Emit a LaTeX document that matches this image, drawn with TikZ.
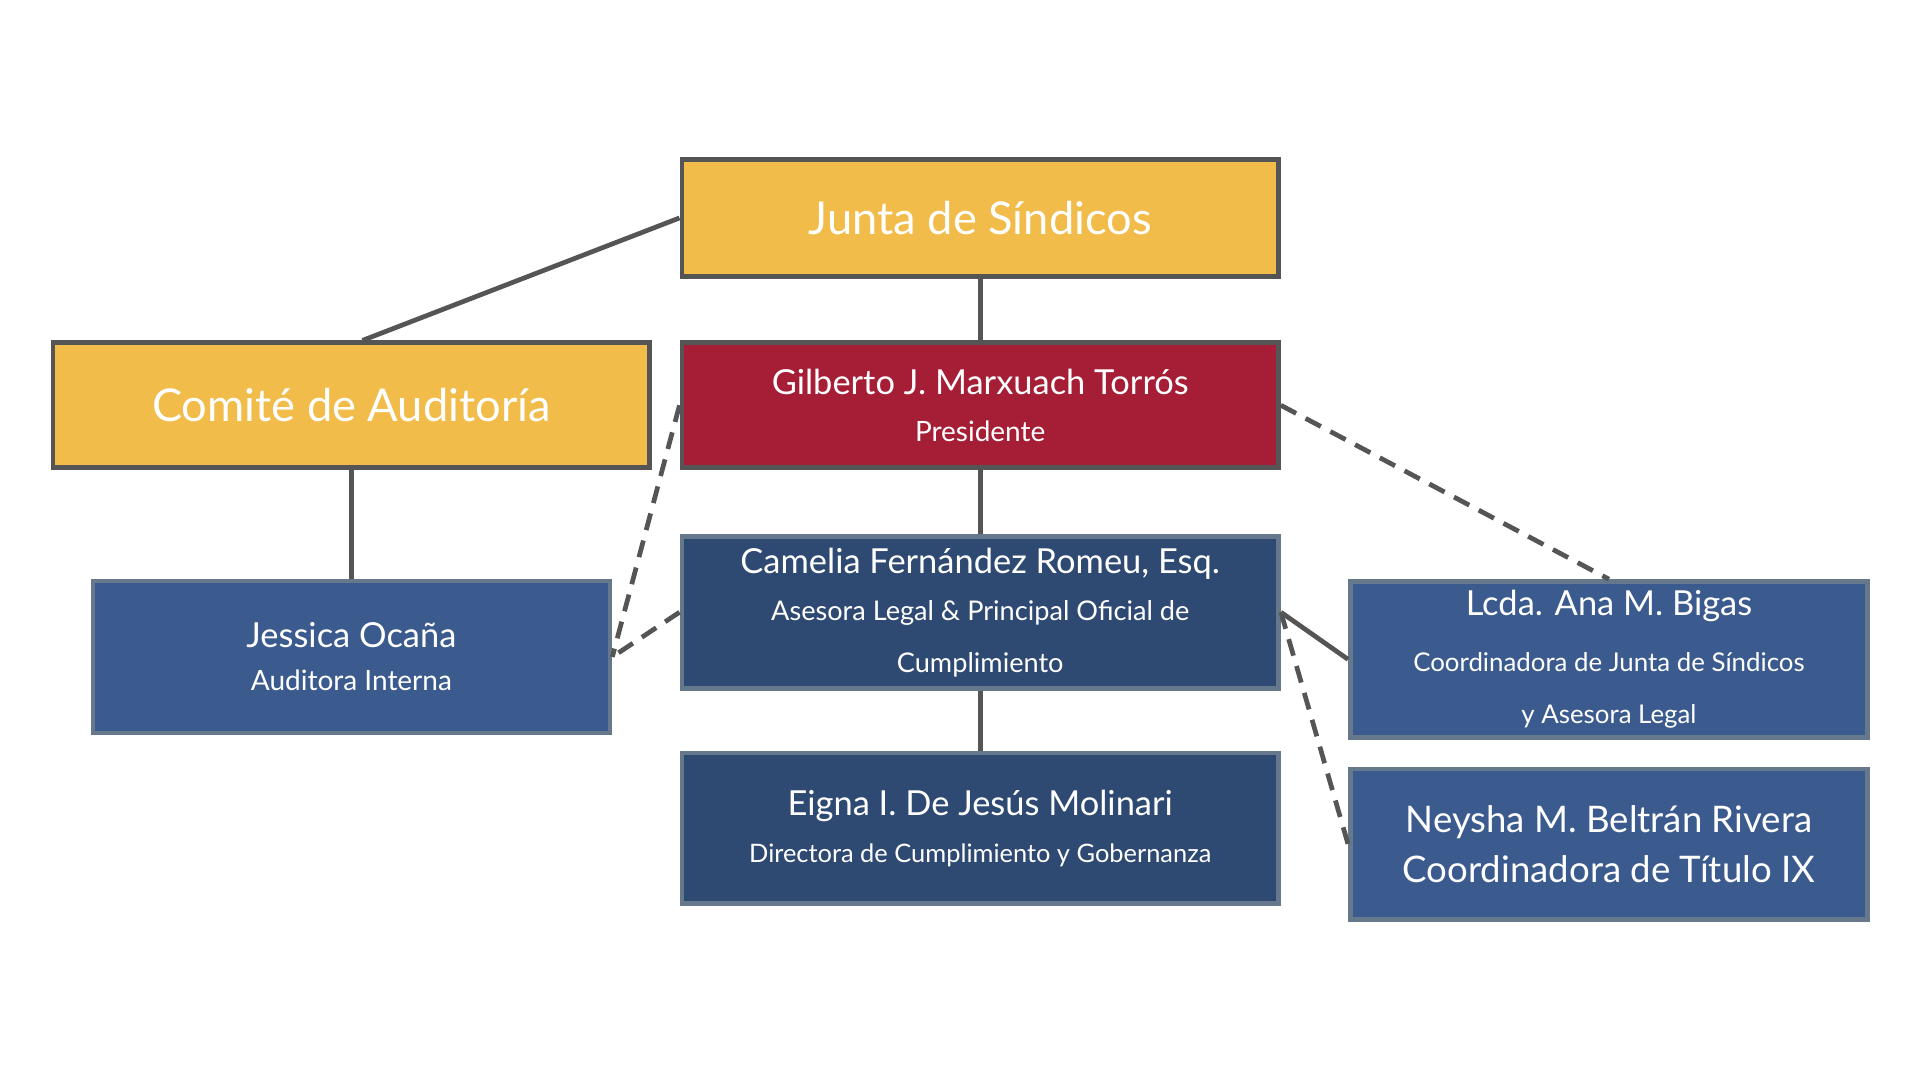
\documentclass[tikz,border=0pt]{standalone}
\usepackage{fontspec}
\setmainfont{Lato}
\usepackage{xcolor}
\usetikzlibrary{positioning}
\definecolor{gold}{HTML}{F2BC4A}
\definecolor{crimson}{HTML}{A51E36}
\definecolor{navy}{HTML}{2F4A72}
\definecolor{steel}{HTML}{3B5A8E}
\definecolor{edge}{HTML}{555555}
\definecolor{rim}{HTML}{65788C}

\begin{document}
\begin{tikzpicture}[x=0.01cm, y=-0.01cm,
  box/.style={draw=edge, line width=1.1pt, text=white, align=center, inner sep=0pt},
  wide/.style={box, minimum width=4.87cm},
  side/.style={box, draw=rim, minimum width=4.22cm, minimum height=1.24cm},
  solid line/.style={draw=edge, line width=1.1pt},
  dash line/.style={draw=edge, line width=1.1pt, dashed, dash pattern=on 4pt off 2.5pt}]
  \useasboundingbox (0,0) rectangle (1568,882);
  % Board and committee
  \node[wide, fill=gold, minimum height=0.96cm, font=\fontsize{10.5}{12}\selectfont] (junta) at (800.5,178) {Junta de Síndicos};
  \node[wide, fill=gold, minimum height=1.02cm, font=\fontsize{10.5}{12}\selectfont] (comite) at (287,331) {Comité de Auditoría};
  % Central chain
  \node[wide, fill=crimson, minimum height=1.02cm] (pres) at (800.5,331)
    {{\fontsize{8}{9.5}\selectfont Gilberto J. Marxuach Torrós}\\[-1pt]{\fontsize{6.5}{8}\selectfont Presidente}};
  \node[wide, draw=rim, fill=navy, minimum height=1.24cm] (legal) at (800.5,500)
    {{\fontsize{8}{9.5}\selectfont Camelia Fernández Romeu, Esq.}\\[-1pt]{\fontsize{6.3}{7.4}\selectfont Asesora Legal \& Principal Oficial de}\\{\fontsize{6.3}{7.4}\selectfont Cumplimiento}};
  \node[wide, draw=rim, fill=navy, minimum height=1.23cm] (cumpl) at (800.5,676.5)
    {{\fontsize{8}{9.5}\selectfont Eigna I. De Jesús Molinari}\\[-1pt]{\fontsize{5.9}{7}\selectfont Directora de Cumplimiento y Gobernanza}};
  % Side boxes
  \node[side, fill=steel] (audit) at (287,536.5)
    {{\fontsize{8}{9.5}\selectfont Jessica Ocaña}\\[-2pt]{\fontsize{6.5}{8}\selectfont Auditora Interna}};
  \node[side, fill=steel, minimum height=1.27cm] (bigas) at (1314,538.5)
    {{\fontsize{8}{9.5}\selectfont Lcda. Ana M. Bigas}\\[1pt]{\fontsize{6}{7}\selectfont Coordinadora de Junta de Síndicos}\\{\fontsize{6}{7}\selectfont y Asesora Legal}};
  \node[side, fill=steel, minimum height=1.23cm, font=\fontsize{8.5}{11.5}\selectfont] (titulo) at (1314,689.5)
    {Neysha M. Beltrán Rivera\\Coordinadora de Título IX};
  % Solid connectors
  \draw[solid line] (junta.west) -- (comite.north -| 296,0);
  \draw[solid line] (comite) -- (audit);
  \draw[solid line] (junta) -- (pres);
  \draw[solid line] (pres) -- (legal);
  \draw[solid line] (legal) -- (cumpl);
  \draw[solid line] (legal.east) -- (bigas.west);
  % Dashed connectors
  \draw[dash line] (pres.west) -- (audit.east);
  \draw[dash line] (legal.west) -- (audit.east);
  \draw[dash line] (pres.east) -- (bigas.north);
  \draw[dash line] (legal.east) -- (titulo.west);
\end{tikzpicture}
\end{document}
